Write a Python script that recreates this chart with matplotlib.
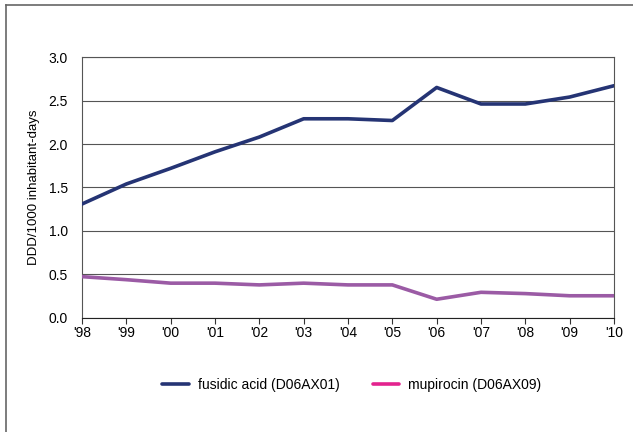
import matplotlib.pyplot as plt
from matplotlib.lines import Line2D

plt.rcParams['font.family'] = ['Liberation Sans', 'DejaVu Sans']

years = ["'98", "'99", "'00", "'01", "'02", "'03", "'04", "'05", "'06", "'07", "'08", "'09", "'10"]
fusidic = [1.31, 1.54, 1.72, 1.91, 2.08, 2.29, 2.29, 2.27, 2.65, 2.46, 2.46, 2.54, 2.67]
mupirocin = [0.475, 0.44, 0.40, 0.40, 0.38, 0.40, 0.38, 0.38, 0.215, 0.295, 0.28, 0.255, 0.255]

fs = 10

fig = plt.figure(figsize=(6.33, 4.32), dpi=100)
ax = fig.add_axes([0.1295, 0.264, 0.8405, 0.604])

x = range(len(years))
ax.plot(x, fusidic, color='#253474', lw=2.6, solid_capstyle='round', zorder=3)
ax.plot(x, mupirocin, color='#9B5BA5', lw=2.6, solid_capstyle='round', zorder=3)

ax.set_xlim(0, len(years) - 1)
ax.set_ylim(0, 3)
ax.set_yticks([0, 0.5, 1, 1.5, 2, 2.5, 3])
ax.set_yticklabels(['0.0', '0.5', '1.0', '1.5', '2.0', '2.5', '3.0'], fontsize=fs)
ax.set_xticks(list(x))
ax.set_xticklabels(years, fontsize=fs)
ax.tick_params(axis='y', length=0, pad=10)
ax.tick_params(axis='x', direction='out', length=4, width=0.8, color='#333333', pad=2)
ax.grid(axis='y', color='#555555', lw=0.8)
for s in ax.spines.values():
    s.set_color('#555555')
    s.set_linewidth(0.8)
ax.spines['bottom'].set_color('#222222')
ax.set_ylabel('DDD/1000 inhabitant-days', fontsize=9.5, labelpad=6)

handles = [Line2D([], [], color='#253474', lw=2.6, solid_capstyle='round'),
           Line2D([], [], color='#E3238E', lw=2.6, solid_capstyle='round')]
fig.legend(handles, ['fusidic acid (D06AX01)', 'mupirocin (D06AX09)'],
           loc='center', bbox_to_anchor=(0.556, 0.108), ncol=2, frameon=False,
           fontsize=fs, handlelength=1.9, columnspacing=2.4, handletextpad=0.65)

# outer frame lines (top and left)
fig.add_artist(Line2D([6 / 633, 1], [1 - 5 / 432, 1 - 5 / 432], color='#666666', lw=1.2))
fig.add_artist(Line2D([6 / 633, 6 / 633], [0, 1 - 5 / 432], color='#666666', lw=1.2))

fig.savefig('out.png', dpi=100)
